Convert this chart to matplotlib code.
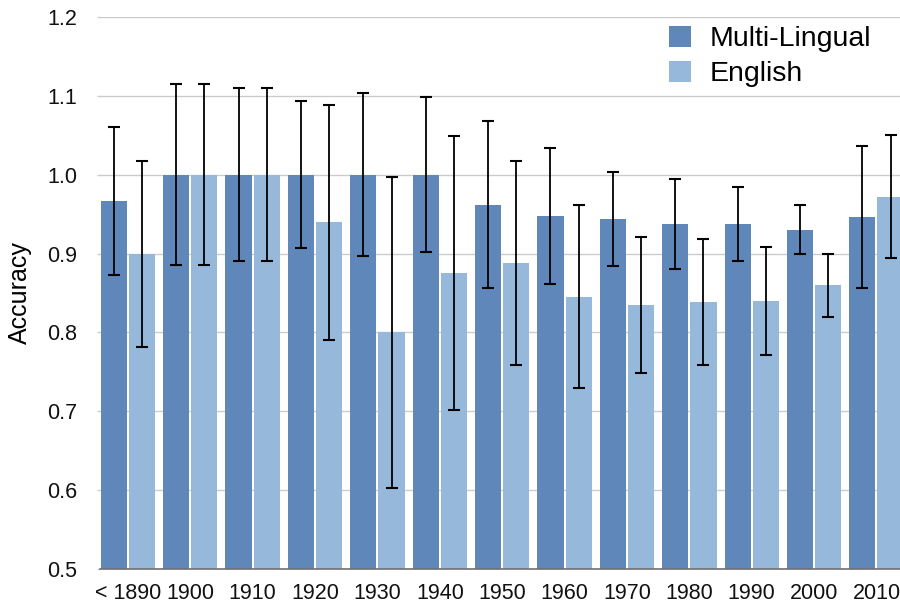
import matplotlib.pyplot as plt
import numpy as np

# accuracy per decade, two models, with error bar half-widths
decadas = ["< 1890", "1900", "1910", "1920", "1930", "1940", "1950",
           "1960", "1970", "1980", "1990", "2000", "2010"]
multi = [0.967, 1.0, 1.0, 1.0, 1.0, 1.0, 0.962, 0.948, 0.944, 0.938, 0.938, 0.930, 0.946]
multi_err = [0.094, 0.115, 0.110, 0.093, 0.103, 0.098, 0.106, 0.086, 0.060, 0.057, 0.047, 0.031, 0.090]
ingles = [0.900, 1.0, 1.0, 0.940, 0.800, 0.875, 0.888, 0.845, 0.835, 0.839, 0.840, 0.860, 0.972]
ingles_err = [0.118, 0.115, 0.110, 0.149, 0.197, 0.174, 0.129, 0.116, 0.086, 0.080, 0.068, 0.040, 0.078]

plt.rcParams['font.family'] = ['Liberation Sans', 'DejaVu Sans']

color_multi = "#5f87b9"
color_ingles = "#96b8da"

fig = plt.figure(figsize=(9, 6.05), dpi=100)
ax = fig.add_axes([0.111, 0.0595, 0.889, 0.9124])

x = np.arange(len(decadas))
ancho = 0.42
desp = 0.226

estilo_err = dict(ecolor="black", elinewidth=1.3, capsize=4, capthick=1.5)
ax.bar(x - desp, multi, ancho, color=color_multi, yerr=multi_err,
       error_kw=estilo_err, label="Multi-Lingual", zorder=2)
ax.bar(x + desp, ingles, ancho, color=color_ingles, yerr=ingles_err,
       error_kw=estilo_err, label="English", zorder=2)

ax.set_ylim(0.5, 1.2)
ax.set_xlim(-0.449, 12.377)
ax.set_yticks(np.arange(0.5, 1.21, 0.1))
ax.set_yticklabels(["%.1f" % v for v in np.arange(0.5, 1.21, 0.1)])
ax.set_xticks(x)
ax.set_xticklabels(decadas)

ax.yaxis.grid(True, color="#cccccc", linewidth=1.0, zorder=0)
ax.set_axisbelow(True)
for lado in ["top", "right", "left"]:
    ax.spines[lado].set_visible(False)
ax.spines["bottom"].set_color("#707070")
ax.spines["bottom"].set_linewidth(1.2)
ax.spines["bottom"].set_zorder(3)

ax.tick_params(axis="y", length=2.2, color="#cccccc", width=1.0, pad=14, labelsize=15.5)
ax.tick_params(axis="x", length=0, pad=10, labelsize=15.5)
for t in ax.get_xticklabels() + ax.get_yticklabels():
    t.set_color("#111111")

ax.set_ylabel("Accuracy", fontsize=18, labelpad=11)

ax.legend(loc="upper left", bbox_to_anchor=(0.715, 1.0), bbox_transform=fig.transFigure,
          frameon=False, fontsize=20.5, handlelength=0.77, handleheight=0.77,
          handletextpad=0.65, labelspacing=0.3)

fig.savefig("out.png", dpi=100)
